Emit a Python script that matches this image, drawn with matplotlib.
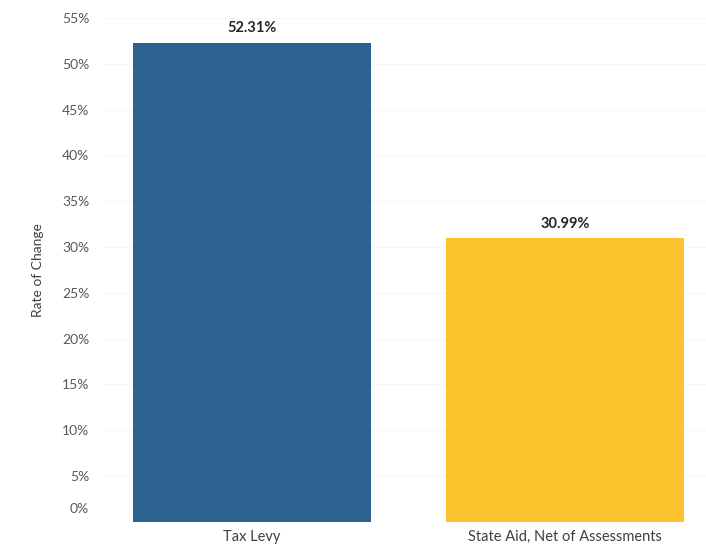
import matplotlib
matplotlib.use('Agg')
import matplotlib.pyplot as plt

categories = ['Tax Levy', 'State Aid, Net of Assessments']
rates = [52.31, 30.99]
bar_colors = ['#2d6191', '#fbc42e']
ytick_pos = [1.5, 5, 10, 15, 20, 25, 30, 35, 40, 45, 50, 55]
ytick_labels = ['0%', '5%', '10%', '15%', '20%', '25%', '30%', '35%', '40%', '45%', '50%', '55%']

plt.rcParams['font.family'] = ['Lato', 'DejaVu Sans']

fig = plt.figure(figsize=(7.06, 5.54), dpi=100)
ax = fig.add_axes([0.148, 0.058, 0.852, 0.9095])

x = range(len(categories))
bars = ax.bar(x, rates, width=0.76, color=bar_colors, zorder=2)
for b, v in zip(bars, rates):
    ax.text(b.get_x() + b.get_width() / 2, v + 0.8, f'{v:.2f}%', ha='center', va='bottom',
            fontsize=10.5, fontweight='bold', color='#262626')

ax.set_xlim(-0.47, 1.45)
ax.set_ylim(0, 55)
ax.set_xticks(list(x))
ax.set_xticklabels(categories, fontsize=10.5, color='#404040')
ax.set_yticks(ytick_pos)
ax.set_yticklabels(ytick_labels, fontsize=10, color='#595959')
ax.tick_params(length=0, pad=11)
ax.tick_params(axis='x', pad=6)
for v in ytick_pos[1:]:
    ax.axhline(v, color='#f7f7f7', linewidth=0.8, zorder=0)
for s in ax.spines.values():
    s.set_visible(False)
ax.set_ylabel('Rate of Change', fontsize=10, color='#404040', labelpad=13)

fig.savefig('out.png')
